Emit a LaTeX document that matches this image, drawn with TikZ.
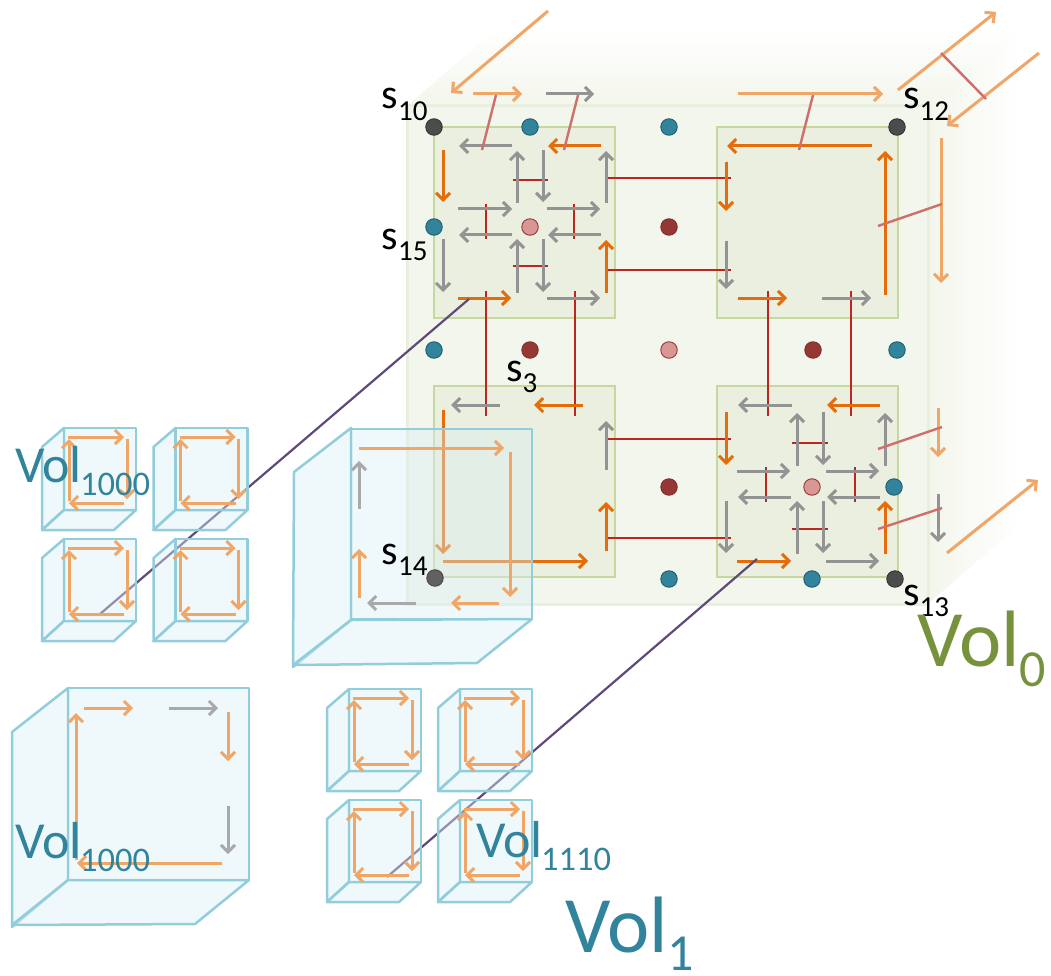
\documentclass[tikz,border=0pt]{standalone}
\usepackage{fontspec}
\setmainfont{Carlito}
\usetikzlibrary{arrows.meta}
\definecolor{cOrange}{HTML}{E46C0A}
\definecolor{cLight}{HTML}{EFA666}
\definecolor{cGray}{HTML}{939393}
\definecolor{cRed}{HTML}{BE2420}
\definecolor{cFade}{HTML}{CE6F6C}
\definecolor{cPurple}{HTML}{5F497A}
\definecolor{cTeal}{HTML}{31849B}
\definecolor{cOlive}{HTML}{76923C}
\definecolor{cCube}{HTML}{92CDDC}
\definecolor{cCubeFill}{HTML}{DAEEF3}
\definecolor{cSq}{HTML}{EAEFDF}
\definecolor{cSqLine}{HTML}{C5D89D}
\definecolor{cVol}{HTML}{F3F6EC}
\definecolor{cVolLine}{HTML}{E9EFDD}
\definecolor{HTMLred}{HTML}{953735}
\definecolor{HTMLpink}{HTML}{D99694}
\tikzset{
  tip/.style={-{Straight Barb[length=7pt,width=14pt,line width=3pt]}},
  oarr/.style={tip,draw=cOrange,line width=3pt},
  larr/.style={tip,draw=cLight,line width=3pt},
  garr/.style={tip,draw=cGray,line width=3pt},
  rline/.style={draw=cRed,line width=2.4pt},
  fline/.style={draw=cFade,line width=2.4pt},
  pline/.style={draw=cPurple,line width=2.2pt},
  sq/.style={fill=cSq,draw=cSqLine,line width=2.5pt},
  dot/.style={circle,minimum size=16.5pt,inner sep=0pt,line width=.9pt},
  dteal/.style={dot,fill=cTeal,draw=cTeal!70!black},
  ddark/.style={dot,fill=black!70,draw=black!80},
  dred/.style={dot,fill=HTMLred,draw=HTMLred!85!black},
  dpink/.style={dot,fill=HTMLpink,draw=HTMLred},
  cubeface/.style={fill=cCubeFill,fill opacity=.42,draw=cCube,line width=2.5pt,line join=round},
  txt/.style={anchor=base west,inner sep=0pt,outer sep=0pt},
}
\newcommand{\SN}[5]{% name, x, y, main text, subscript (state labels)
  \node[txt,text=black] (#1) at (#2,#3) {\fontsize{42}{42}\selectfont #4\hspace{.2pt}\raisebox{-11.5pt}{\fontsize{29}{29}\selectfont #5}};}
\newcommand{\VolS}[4]{% name, x, y, subscript
  \node[txt,text=cTeal] (#1) at (#2,#3) {\fontsize{52}{52}\selectfont Vol\hspace{-1.5pt}\raisebox{-13pt}{\fontsize{34.5}{34.5}\selectfont #4}};}
\newcommand{\SmallCube}[2]{%
  \begin{scope}[shift={(#1,#2)}]
    \path[cubeface] (0,0) -- (-22,19) -- (-22,102) -- (0,82) -- cycle;
    \path[cubeface] (0,82) -- (72,82) -- (50,102) -- (-22,102) -- cycle;
    \path[cubeface] (0,0) rectangle (72,82);
    \draw[larr] (4,9) -- (60,9);
    \draw[larr] (63,11) -- (63,71);
    \draw[larr] (60,75) -- (5,75);
    \draw[larr] (5,73) -- (5,11);
  \end{scope}}
\begin{document}
\begin{tikzpicture}[x=1pt,y=-1pt]
\useasboundingbox (0,0) rectangle (1051,976);
% big green volume
\shade[top color=white,bottom color=cVol,draw=none] (407,106) -- (498,27) -- (1022,27) -- (928,106) -- cycle;
\shade[left color=cVol,middle color=cVol!35,right color=white,draw=none] (928,106) -- (1022,27) -- (1022,522) -- (928,604) -- cycle;
\path[fill=cVol,draw=cVolLine,line width=3pt] (407,106) rectangle (928,604);
% squares
\path[sq] (434,127) rectangle (615,318);
\path[sq] (717,127) rectangle (898,318);
\path[sq] (434,386) rectangle (615,577);
\path[sq] (717,386) rectangle (898,577);
% dots
\node[ddark] (d10) at (434,127) {};
\node[dteal] (dA) at (530,127) {};
\node[dteal] (dB) at (669,127) {};
\node[ddark] (d12) at (897,127) {};
\node[dteal] (d15) at (434,227) {};
\node[dpink] (dC) at (530,227) {};
\node[dred] (dD) at (669,227) {};
\node[dteal] (dE) at (434,350) {};
\node[dred] (dF) at (530,350) {};
\node[dpink] (dG) at (669,350) {};
\node[dred] (dH) at (813,350) {};
\node[dteal] (dI) at (897,350) {};
\node[dred] (dJ) at (669,487) {};
\node[dpink] (dK) at (812,487) {};
\node[dteal] (dL) at (894,487) {};
\node[dteal] (dM) at (669,579) {};
\node[dteal] (dN) at (812,579) {};
\node[ddark] (d13) at (895,579) {};
% red link lines
\foreach \a/\b/\c/\d in {606/178/731/178,606/270/731/270,606/439/731/439,606/538/731/538,
  513/180/548/180,513/266/548/266,486/204/486/239,574/204/574/239,
  486/291/486/416,575/291/575/416,768/291/768/416,851/291/851/416,
  792/443/828/443,792/529/828/529,766/467/766/502,855/467/855/502}
  \draw[rline] (\a,\b) -- (\c,\d);
% gray arrows
\foreach \a/\b/\c/\d in {546/94/594/94,512/146/459/146,517/203/517/151,543/150/543/202,606/203/606/151,
  458/209/512/209,512/235/459/235,547/209/600/209,601/235/548/235,517/293/517/239,543/239/543/292,
  443/239/443/292,547/298/600/298,
  726/241/726/289,822/298/871/298,
  792/405/738/405,797/466/797/413,823/412/823/465,885/466/885/413,737/471/790/471,791/497/738/497,
  826/471/879/471,880/497/827/497,726/501/726/553,797/554/797/501,823/501/823/553,938/494/938/542,826/561/879/561,
  500/405/451/405,606/470/606/421}
  \draw[garr] (\a,\b) -- (\c,\d);
% orange arrows
\foreach \a/\b/\c/\d in {601/146/548/146,443/150/443/202,606/293/606/240,458/298/511/298,
  872/146/727/146,885/295/885/151,726/162/726/211,738/298/787/298,
  880/405/827/405,726/412/726/465,885/554/885/501,737/561/791/561,
  583/405/534/405,443/410/443/554,606/551/606/502,443/561/588/561}
  \draw[oarr] (\a,\b) -- (\c,\d);
% light orange arrows of the outer volume
\foreach \a/\b/\c/\d in {548/11/451/93,473/94/522/94,738/94/883/94,898/90/996/12,1039/53/947/126,
  941/138/941/283,938/408/938/457,947/553/1038/480}
  \draw[larr] (\a,\b) -- (\c,\d);
% faded links
\foreach \a/\b/\c/\d in {496/95/482/150,578/95/564/150,813/95/799/150,941/53/986/99,878/226/942/204,
  878/449/942/427,878/529/942/508}
  \draw[fline] (\a,\b) -- (\c,\d);
% zoom lines
\coordinate (pa) at (469,299);
\coordinate (pb) at (100,614);
\coordinate (pc) at (757,559);
\coordinate (pd) at (387,877);
\draw[pline] (pa) -- (pb);
\draw[pline] (pc) -- (pd);
% blue cube over the lower-left square
\path[cubeface] (351,428) -- (294,472) -- (293,667) -- (351,620) -- cycle;
\path[cubeface] (351,620) -- (532,619) -- (477,663) -- (293,665) -- cycle;
\path[cubeface] (351,429) rectangle (532,619);
\node[dot,fill=black!62,draw=black!72] (d14) at (435,578) {};
\draw[larr] (359,448) -- (504,448);
\draw[larr] (510,452) -- (510,597);
\draw[garr,draw=cGray!80] (359,509) -- (359,461);
\draw[larr] (359,598) -- (359,549);
\draw[garr,draw=cGray!80] (416,603) -- (367,603);
\draw[larr] (499,603) -- (451,603);
% large lower-left cube
\path[cubeface] (68,688) -- (12,732) -- (12,927) -- (68,880) -- cycle;
\path[cubeface] (68,880) -- (249,880) -- (195,924) -- (12,925) -- cycle;
\path[cubeface] (68,688) rectangle (249,880);
\draw[larr] (84,708) -- (133,708);
\draw[garr,draw=cGray!80] (169,708) -- (218,708);
\draw[larr] (228,712) -- (228,761);
\draw[garr,draw=cGray!80] (228,806) -- (228,854);
\draw[larr] (222,863) -- (77,863);
\draw[larr] (76,860) -- (76,713);
% small cubes
\SmallCube{64}{428}
\SmallCube{175.5}{428}
\SmallCube{64}{539}
\SmallCube{175.5}{539}
\SmallCube{349}{689}
\SmallCube{460}{689}
\SmallCube{349}{800}
\SmallCube{460}{800}
% labels
\SN{s10}{381.5}{109}{s}{10}
\SN{s15}{381.5}{249}{s}{15}
\SN{s12}{903}{109}{s}{12}
\SN{s13}{903}{605}{s}{13}
\SN{s3}{506}{381}{s}{3}
\SN{s14}{381.5}{564}{s}{14}
\VolS{vA}{15}{482}{1000}
\VolS{vB}{15}{858}{1000}
\VolS{vC}{476}{857}{1110}
\node[txt,text=cOlive] (v0) at (917,666) {\fontsize{80}{80}\selectfont Vol\raisebox{-20pt}{\fontsize{52}{52}\selectfont 0}};
\node[txt,text=cTeal] (v1) at (565,952) {\fontsize{80}{80}\selectfont Vol\raisebox{-18pt}{\fontsize{52}{52}\selectfont 1}};
\end{tikzpicture}
\end{document}
